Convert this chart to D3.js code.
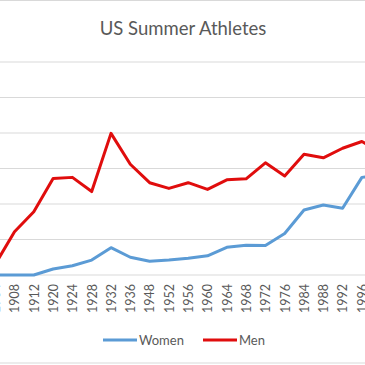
<!DOCTYPE html>
<html>
<head>
<meta charset="utf-8">
<script src="https://cdn.jsdelivr.net/npm/d3@7"></script>
<style>
  html, body { margin: 0; padding: 0; background: #fff; overflow: hidden; }
  svg { display: block; }
</style>
</head>
<body>
<script>
// ---- data ----
const years = ["1904","1908","1912","1920","1924","1928","1932","1936","1948","1952","1956","1960","1964","1968","1972","1976","1984","1988","1992","1996","2000"];
const women = [0, 0, 0, 17, 26, 42, 77, 50, 39, 42, 47, 54, 78, 84, 83, 117, 183, 197, 188, 275, 280];
const men   = [30, 122, 178, 272, 275, 235, 399, 312, 260, 244, 260, 241, 268, 271, 316, 279, 340, 330, 357, 376, 345];
const yTicks = [0, 100, 200, 300, 400, 500, 600];
const seriesNames = ["Women", "Men"];
const colors = ["#5B9BD5", "#E00D0D"];

// ---- layout ----
const W = 365, H = 365;
const step = 19.3;
const firstX = 111 - 6 * step; // 1932 lands at x=111
const svg = d3.select("body").append("svg").attr("width", W).attr("height", H);

const x = d3.scalePoint().domain(years).range([firstX, firstX + step * (years.length - 1)]);
const y = d3.scaleLinear().domain([0, 600]).range([275, 62]);

const font = "Lato, 'Open Sans', sans-serif";

// chart border (top/bottom visible)
svg.append("rect").attr("x", -5).attr("y", 0.5).attr("width", W + 10).attr("height", 362.5)
  .attr("fill", "none").attr("stroke", "#d9d9d9").attr("stroke-width", 1);

// title
svg.append("text").attr("x", 183).attr("y", 35).attr("text-anchor", "middle")
  .attr("font-family", font).attr("font-size", 18.5).attr("fill", "#595959")
  .text("US Summer Athletes");

// gridlines
svg.append("g").selectAll("line").data(yTicks.filter(d => d > 0)).join("line")
  .attr("x1", 0).attr("x2", W).attr("y1", d => y(d)).attr("y2", d => y(d))
  .attr("stroke", "#d9d9d9").attr("stroke-width", 1);

// x axis
const xAxis = d3.axisBottom(x).tickSize(0).tickPadding(10);
const gx = svg.append("g").attr("transform", `translate(0,${y(0)})`).call(xAxis);
gx.select(".domain").remove();
gx.append("line").attr("x1", 0).attr("x2", W).attr("stroke", "#d9d9d9").attr("stroke-width", 1);
gx.selectAll(".tick text")
  .attr("font-family", font).attr("font-size", 12.5).attr("fill", "#595959")
  .attr("transform", "rotate(-90)").attr("text-anchor", "end")
  .attr("x", -9).attr("y", 0).attr("dy", "0.35em");

// lines
const line = d3.line().x((d, i) => x(years[i])).y(d => y(d));
[women, men].forEach((s, k) => {
  svg.append("path").datum(s).attr("d", line)
    .attr("fill", "none").attr("stroke", colors[k]).attr("stroke-width", 3)
    .attr("stroke-linejoin", "round").attr("stroke-linecap", "round");
});

// legend
const legendX = [103, 203];
const lg = svg.append("g");
seriesNames.forEach((name, k) => {
  lg.append("line").attr("x1", legendX[k]).attr("x2", legendX[k] + 34)
    .attr("y1", 340).attr("y2", 340).attr("stroke", colors[k]).attr("stroke-width", 3);
  lg.append("text").attr("x", legendX[k] + 36).attr("y", 340).attr("dy", "0.35em")
    .attr("font-family", font).attr("font-size", 13).attr("fill", "#595959").text(name);
});
</script>
</body>
</html>
